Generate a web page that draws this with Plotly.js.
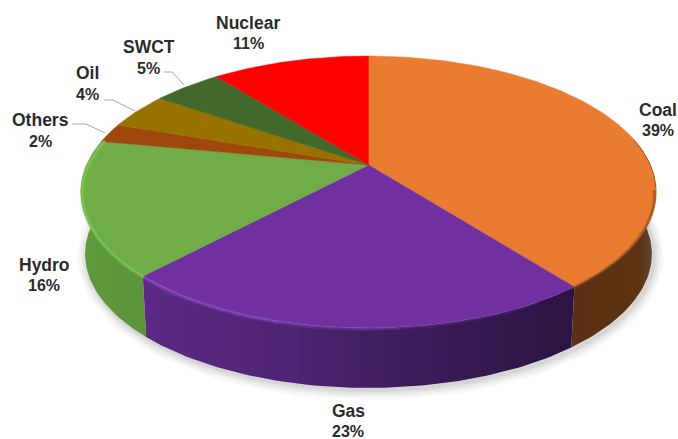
<!DOCTYPE html>
<html>
<head>
<meta charset="utf-8">
<script src="https://cdn.plot.ly/plotly-3.0.1.min.js"></script>
<style>html,body{margin:0;padding:0;background:#fff}#c{width:678px;height:439px}</style>
</head>
<body>
<div id="c"></div>
<script>
// Data, clockwise from 12 o'clock (labels show them rounded)
var categories = ['Coal', 'Gas', 'Hydro', 'Others', 'Oil', 'SWCT', 'Nuclear'];
var shares = [39.44, 22.56, 16, 2.3, 4.3, 4.7, 10.7];
var faceColors = ['#E97C30', '#7030A0', '#70AD47', '#9E480E', '#997300', '#43682B', '#FF0000'];

// Pie geometry in plot coordinates (x/y axes map 1:1 on the page)
var CX = 368.5, CY = 165, RX = 282, Q = 130.6, P = 0.1985;
var FLOOR_CY = 227.4, FLOOR_S = 0.985;

function project(deg, cy, s) {
  var a = deg * Math.PI / 180, x = Math.sin(a), y = Math.cos(a), f = 1 / (1 + P * y);
  return [CX + s * RX * x * f, cy - s * Q * y * f];
}
function arc(d0, d1, cy, s) {
  var pts = [], n = Math.max(2, Math.ceil(Math.abs(d1 - d0))), i;
  for (i = 0; i <= n; i++) pts.push(project(d0 + (d1 - d0) * i / n, cy, s));
  return pts;
}
function xs(p) { return p.map(function (q) { return q[0]; }); }
function ys(p) { return p.map(function (q) { return q[1]; }); }

var total = shares.reduce(function (a, b) { return a + b; }, 0);
var edges = [0];
shares.forEach(function (v, i) { edges.push(edges[i] + v / total * 360); });

var traces = [];
function line(p, color, width, opacity) {
  traces.push({ type: 'scatter', mode: 'lines', x: xs(p), y: ys(p), hoverinfo: 'skip', showlegend: false,
    opacity: opacity === undefined ? 1 : opacity,
    line: { color: color, width: width, shape: 'linear' } });
}

// soft ground shadow
[[20, 0.028], [14, 0.035], [9, 0.04], [4, 0.05]].forEach(function (w) {
  var p = arc(80, 285, FLOOR_CY + 2, FLOOR_S).map(function (q) { return [q[0] + 2, q[1]]; });
  line(p, '#000000', w[0], w[1]);
});

// side walls: only slices facing the viewer
var walls = [
  { i: 0, from: 78, to: edges[1], scale: [[0, '#5A3012'], [0.8, '#5E3313'], [1, '#5F4A38']] },
  { i: 2, from: edges[2], to: 285, scale: [[0, '#5E9A3B'], [1, '#5B9339']] },
  { i: 1, from: edges[1], to: edges[2], scale: [[0, '#5C2A85'], [0.35, '#4F2473'], [0.6, '#3F1C5C'], [1, '#2B1342']] }
];
walls.forEach(function (w) {
  var top = arc(w.from, w.to, CY, 1), bot = arc(w.to, w.from, FLOOR_CY, FLOOR_S), p = top.concat(bot);
  p.push(p[0]);
  traces.push({ type: 'scatter', mode: 'lines', x: xs(p), y: ys(p), fill: 'toself', name: categories[w.i], hoverinfo: 'skip',
    showlegend: false, line: { width: 0 },
    fillgradient: { type: 'horizontal', colorscale: w.scale } });
});

// top face
shares.forEach(function (v, i) {
  var p = [[CX, CY]].concat(arc(edges[i], edges[i + 1], CY, 1));
  p.push([CX, CY]);
  traces.push({ type: 'scatter', mode: 'lines', x: xs(p), y: ys(p), fill: 'toself', fillcolor: faceColors[i],
    name: categories[i], text: categories[i] + ' ' + Math.round(v) + '%', hoverinfo: 'text', showlegend: false,
    hoveron: 'fills', line: { color: faceColors[i], width: 0.5 } });
});

// bevel along the rim (blurred look: wide faint stroke under a narrow one)
function rim(d0, d1, color, opacity) {
  line(arc(d0, d1, CY + 2, 0.995), color, 4, opacity * 0.35);
  line(arc(d0, d1, CY + 1.5, 0.995), color, 2, opacity * 0.6);
}
rim(edges[2], 282, '#7FC957', 1);
[[150, 175, 0.25], [175, 195, 0.55], [195, edges[2], 0.95]].forEach(function (r) {
  rim(r[0], r[1], '#8C50C6', r[2]);
});
rim(100, edges[1], '#7A4418', 0.7);
line(arc(78, 100, CY, 0.999), '#6B4A2C', 1, 0.6);

// leader lines
var leaders = [
  [[164, 72], [172, 72], [184, 85]],
  [[104, 100], [113, 100], [135, 111]],
  [[72, 124], [86, 124], [105, 133]]
];
leaders.forEach(function (l) { line(l, '#A6A6A6', 1); });

// labels: name and percentage on their own lines
var labelX = [658, 348, 44, 40, 87, 148.5, 248];
var nameY = [110, 411, 265, 120, 73, 47, 23];
var pctY = [130, 431, 285, 141, 94, 68, 43];
var annotations = [];
categories.forEach(function (c, i) {
  var base = { x: labelX[i], xref: 'x', yref: 'y', showarrow: false, xanchor: 'center', yanchor: 'middle', align: 'center' };
  annotations.push(Object.assign({}, base, { y: nameY[i], text: c,
    font: { family: '"Liberation Sans", Arial, sans-serif', size: 17.5, color: '#2b2b2b', weight: 700 } }));
  annotations.push(Object.assign({}, base, { y: pctY[i], text: Math.round(shares[i]) + '%',
    font: { family: '"Liberation Sans", Arial, sans-serif', size: 16, color: '#2b2b2b', weight: 700 } }));
});

Plotly.newPlot('c', traces, {
  width: 678, height: 439,
  margin: { l: 0, r: 0, t: 0, b: 0, pad: 0 },
  paper_bgcolor: '#ffffff', plot_bgcolor: '#ffffff',
  showlegend: false, hovermode: 'closest',
  xaxis: { range: [0, 678], visible: false, fixedrange: true },
  yaxis: { range: [439, 0], visible: false, fixedrange: true },
  annotations: annotations
}, { displayModeBar: false });
</script>
</body>
</html>
